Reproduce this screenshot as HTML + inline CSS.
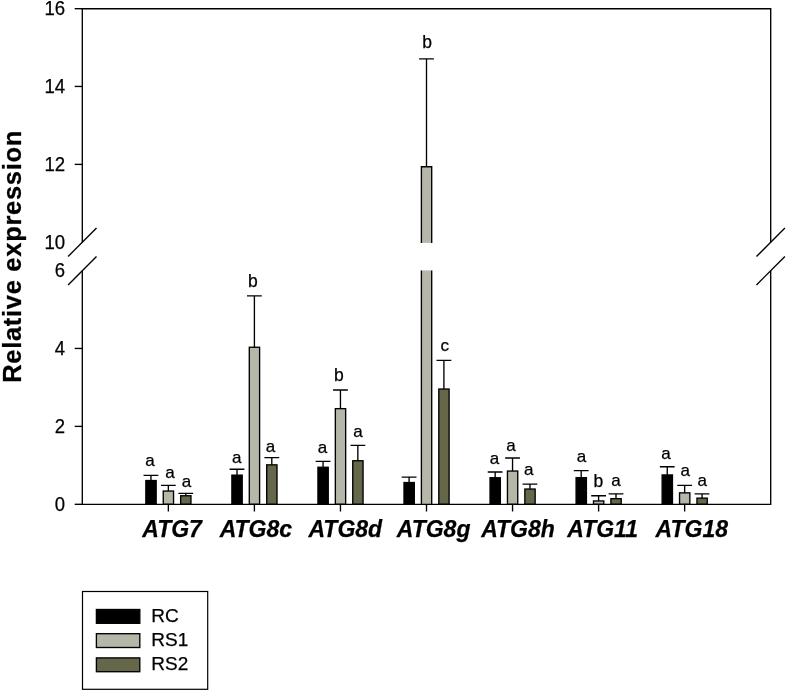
<!DOCTYPE html>
<html lang="en"><head><meta charset="utf-8"><title>Relative expression</title>
<style>html,body{margin:0;padding:0;background:#fff}body{width:787px;height:692px;overflow:hidden}svg{display:block}text{font-family:"Liberation Sans",Arial,Helvetica,sans-serif;fill:#000;stroke:#000;stroke-width:.25px}.t{font-size:19.5px;text-anchor:end}.s{font-size:17.5px;text-anchor:middle}.a{font-size:17px}.x{font-size:23px;font-weight:bold;font-style:italic;text-anchor:middle}.y{font-size:25.5px;letter-spacing:.7px;font-weight:bold;text-anchor:middle}.l{font-size:19px}.k{stroke:#000;stroke-width:1.35;fill:none;stroke-linecap:butt}</style></head><body>
<svg width="787" height="692" viewBox="0 0 787 692">
<rect width="787" height="692" fill="#fff"/>
<rect class="k" x="145.85" y="480.55" width="10.30" height="23.75" style="fill:#000000"/>
<path class="k" d="M150.95 480.55V475.40M143.55 475.40H158.35"/>
<text class="s a" x="150.00" y="465.90">a</text>
<rect class="k" x="163.25" y="491.05" width="10.30" height="13.25" style="fill:#b6b6a9"/>
<path class="k" d="M168.35 491.05V485.40M160.95 485.40H175.75"/>
<text class="s a" x="170.00" y="477.50">a</text>
<rect class="k" x="180.65" y="495.75" width="10.30" height="8.55" style="fill:#66664a"/>
<path class="k" d="M185.75 495.75V493.30M178.35 493.30H193.15"/>
<text class="s a" x="186.40" y="487.40">a</text>
<rect class="k" x="231.90" y="475.15" width="10.30" height="29.15" style="fill:#000000"/>
<path class="k" d="M237.00 475.15V469.20M229.60 469.20H244.40"/>
<text class="s a" x="236.70" y="462.50">a</text>
<rect class="k" x="249.30" y="347.25" width="10.30" height="157.05" style="fill:#b6b6a9"/>
<path class="k" d="M254.40 347.25V295.90M247.00 295.90H261.80"/>
<text class="s" x="252.83" y="287.00">b</text>
<rect class="k" x="266.70" y="464.85" width="10.30" height="39.45" style="fill:#66664a"/>
<path class="k" d="M271.80 464.85V457.60M264.40 457.60H279.20"/>
<text class="s a" x="270.60" y="452.20">a</text>
<rect class="k" x="317.95" y="467.25" width="10.30" height="37.05" style="fill:#000000"/>
<path class="k" d="M323.05 467.25V461.30M315.65 461.30H330.45"/>
<text class="s a" x="322.50" y="452.50">a</text>
<rect class="k" x="335.35" y="408.65" width="10.30" height="95.65" style="fill:#b6b6a9"/>
<path class="k" d="M340.45 408.65V390.00M333.05 390.00H347.85"/>
<text class="s" x="338.88" y="380.70">b</text>
<rect class="k" x="352.75" y="460.75" width="10.30" height="43.55" style="fill:#66664a"/>
<path class="k" d="M357.85 460.75V445.30M350.45 445.30H365.25"/>
<text class="s a" x="357.90" y="437.20">a</text>
<rect class="k" x="404.00" y="482.55" width="10.30" height="21.75" style="fill:#000000"/>
<path class="k" d="M409.10 482.55V477.10M401.70 477.10H416.50"/>
<rect x="421.40" y="166.75" width="10.30" height="76.15" fill="#b6b6a9"/>
<rect x="421.40" y="270.40" width="10.30" height="233.90" fill="#b6b6a9"/>
<path class="k" d="M421.40 242.90V166.75H431.70V242.90"/>
<path class="k" d="M421.40 270.40V504.30M431.70 270.40V504.30"/>
<path class="k" d="M426.50 166.75V58.90M419.10 58.90H433.90"/>
<text class="s" x="427.13" y="47.50">b</text>
<rect class="k" x="438.80" y="389.05" width="10.30" height="115.25" style="fill:#66664a"/>
<path class="k" d="M443.90 389.05V360.30M436.50 360.30H451.30"/>
<text class="s a" x="444.65" y="351.40">c</text>
<rect class="k" x="490.05" y="477.75" width="10.30" height="26.55" style="fill:#000000"/>
<path class="k" d="M495.15 477.75V472.00M487.75 472.00H502.55"/>
<text class="s a" x="494.50" y="464.20">a</text>
<rect class="k" x="507.45" y="471.05" width="10.30" height="33.25" style="fill:#b6b6a9"/>
<path class="k" d="M512.55 471.05V458.00M505.15 458.00H519.95"/>
<text class="s a" x="511.00" y="450.90">a</text>
<rect class="k" x="524.85" y="489.05" width="10.30" height="15.25" style="fill:#66664a"/>
<path class="k" d="M529.95 489.05V484.10M522.55 484.10H537.35"/>
<text class="s a" x="528.70" y="475.45">a</text>
<rect class="k" x="576.10" y="477.65" width="10.30" height="26.65" style="fill:#000000"/>
<path class="k" d="M581.20 477.65V470.60M573.80 470.60H588.60"/>
<text class="s a" x="581.60" y="461.80">a</text>
<rect class="k" x="593.50" y="500.95" width="10.30" height="3.35" style="fill:#b6b6a9"/>
<path class="k" d="M598.60 500.95V495.70M591.20 495.70H606.00"/>
<text class="s" x="598.33" y="487.20">b</text>
<rect class="k" x="610.90" y="498.65" width="10.30" height="5.65" style="fill:#66664a"/>
<path class="k" d="M616.00 498.65V493.80M608.60 493.80H623.40"/>
<text class="s a" x="616.00" y="486.30">a</text>
<rect class="k" x="662.15" y="474.95" width="10.30" height="29.35" style="fill:#000000"/>
<path class="k" d="M667.25 474.95V466.70M659.85 466.70H674.65"/>
<text class="s a" x="665.90" y="459.10">a</text>
<rect class="k" x="679.55" y="492.85" width="10.30" height="11.45" style="fill:#b6b6a9"/>
<path class="k" d="M684.65 492.85V485.30M677.25 485.30H692.05"/>
<text class="s a" x="685.20" y="475.50">a</text>
<rect class="k" x="696.95" y="498.15" width="10.30" height="6.15" style="fill:#66664a"/>
<path class="k" d="M702.05 498.15V493.80M694.65 493.80H709.45"/>
<text class="s a" x="702.20" y="486.40">a</text>
<path class="k" d="M82.30 242.30V8.70H770.70V242.30"/>
<path class="k" d="M82.30 270.70V504.30H770.70V270.70"/>
<path class="k" d="M68.10 256.50L96.50 228.10"/>
<path class="k" d="M68.10 284.90L96.50 256.50"/>
<path class="k" d="M756.50 256.50L784.90 228.10"/>
<path class="k" d="M756.50 284.90L784.90 256.50"/>
<path class="k" d="M74.70 504.30H82.30"/>
<text class="t" x="65.1" y="510.60" textLength="10.3" lengthAdjust="spacingAndGlyphs">0</text>
<path class="k" d="M74.70 426.38H82.30"/>
<text class="t" x="65.1" y="432.68" textLength="10.3" lengthAdjust="spacingAndGlyphs">2</text>
<path class="k" d="M74.70 348.45H82.30"/>
<text class="t" x="65.1" y="354.75" textLength="10.3" lengthAdjust="spacingAndGlyphs">4</text>
<text class="t" x="65.1" y="276.90" textLength="10.3" lengthAdjust="spacingAndGlyphs">6</text>
<text class="t" x="65.1" y="248.60" textLength="20.7" lengthAdjust="spacingAndGlyphs">10</text>
<path class="k" d="M74.70 164.38H82.30"/>
<text class="t" x="65.1" y="170.68" textLength="20.7" lengthAdjust="spacingAndGlyphs">12</text>
<path class="k" d="M74.70 86.45H82.30"/>
<text class="t" x="65.1" y="92.75" textLength="20.7" lengthAdjust="spacingAndGlyphs">14</text>
<path class="k" d="M74.70 8.70H82.30"/>
<text class="t" x="65.1" y="15.00" textLength="20.7" lengthAdjust="spacingAndGlyphs">16</text>
<path class="k" d="M168.35 504.30V511.50"/>
<text class="x" x="172.10" y="537.0">ATG7</text>
<path class="k" d="M254.40 504.30V511.50"/>
<text class="x" x="255.90" y="537.0">ATG8c</text>
<path class="k" d="M340.45 504.30V511.50"/>
<text class="x" x="345.30" y="537.0">ATG8d</text>
<path class="k" d="M426.50 504.30V511.50"/>
<text class="x" x="433.60" y="537.0">ATG8g</text>
<path class="k" d="M512.55 504.30V511.50"/>
<text class="x" x="518.00" y="537.0">ATG8h</text>
<path class="k" d="M598.60 504.30V511.50"/>
<text class="x" x="602.60" y="537.0">ATG11</text>
<path class="k" d="M684.65 504.30V511.50"/>
<text class="x" x="691.80" y="537.0">ATG18</text>
<text class="y" transform="translate(20.9 256.4) rotate(-90)">Relative expression</text>
<rect class="k" x="82.5" y="591.5" width="125.2" height="97.8" style="stroke-width:1.2"/>
<rect class="k" x="96.4" y="609.50" width="43.4" height="13.8" style="fill:#000000"/>
<text class="l" x="151.3" y="622.00">RC</text>
<rect class="k" x="96.4" y="633.70" width="43.4" height="13.8" style="fill:#b6b6a9"/>
<text class="l" x="151.3" y="646.20">RS1</text>
<rect class="k" x="96.4" y="657.90" width="43.4" height="13.8" style="fill:#66664a"/>
<text class="l" x="151.3" y="670.40">RS2</text>
</svg></body></html>
